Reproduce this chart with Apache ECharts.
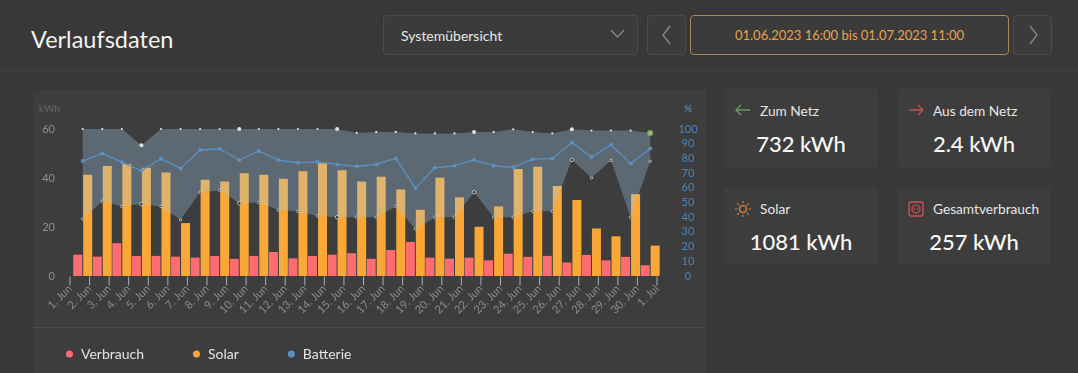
<!DOCTYPE html>
<html lang="de">
<head>
<meta charset="utf-8">
<title>Verlaufsdaten</title>
<script src="https://cdn.jsdelivr.net/npm/echarts@6/dist/echarts.min.js"></script>
<style>
	html, body { margin: 0; padding: 0; width: 1078px; height: 373px; overflow: hidden; background: #383838; font-family: "Lato", "Open Sans", sans-serif; color: #eee; }
	.abs { position: absolute; box-sizing: border-box; }
	#title { left: 31px; top: 25px; font-size: 23.5px; line-height: 28px; color: #f2f2f2; }
	#headline { left: 0; top: 70px; width: 1078px; height: 1px; background: #414141; }
	.btn { top: 15px; height: 40px; border: 1px solid #4b4b4b; border-radius: 4px; background: #3b3b3b; }
	#select { left: 383px; width: 255px; padding: 12px 17px; font-size: 14px; line-height: 15px; color: #e8e8e8; }
	#prev { left: 647px; width: 39px; }
	#range { left: 690px; width: 319px; border-color: #a98a58; color: #e8a24d; font-size: 13px; line-height: 38px; text-align: center; }
	#next { left: 1013px; width: 39px; }
	.btn svg { position: absolute; }
	#panel { left: 33px; top: 90px; width: 673px; height: 283px; background: #3d3d3d; }
	#panelline { left: 33px; top: 327px; width: 673px; height: 1px; background: #4d4d4d; }
	#chart { left: 0; top: 0; width: 720px; height: 373px; }
	.card { width: 154px; height: 78px; background: #3d3d3d; border-radius: 2px; }
	.card .lbl { position: absolute; left: 36px; top: 14px; font-size: 13.7px; line-height: 16px; color: #e6e6e6; white-space: nowrap; }
	.card .val { position: absolute; left: 0; width: 100%; top: 41px; text-align: center; font-size: 22px; line-height: 28px; font-weight: 500; color: #f7f7f7; white-space: nowrap; }
	.card svg { position: absolute; left: 11px; top: 14px; }
</style>
</head>
<body>
<div class="abs" id="title">Verlaufsdaten</div>
<div class="abs" id="headline"></div>
<div class="abs btn" id="select">Systemübersicht
	<svg style="left:226px;top:13px" width="15" height="10"><path d="M1 1 L7.5 8 L14 1" fill="none" stroke="#8a8a8a" stroke-width="1.2"/></svg>
</div>
<div class="abs btn" id="prev"><svg style="left:13px;top:9px" width="11" height="20"><path d="M9 1 L2 10 L9 19" fill="none" stroke="#8a8a8a" stroke-width="1.3"/></svg></div>
<div class="abs btn" id="range">01.06.2023 16:00 bis 01.07.2023 11:00</div>
<div class="abs btn" id="next"><svg style="left:14px;top:9px" width="11" height="20"><path d="M2 1 L9 10 L2 19" fill="none" stroke="#8a8a8a" stroke-width="1.3"/></svg></div>

<div class="abs" id="panel"></div>
<div class="abs" id="panelline"></div>
<div class="abs" id="chart"></div>

<div class="abs card" style="left:724px;top:89px">
	<svg width="16" height="16"><path d="M15 7 H1 M6 2 L1 7 L6 12" fill="none" stroke="#6f9c5c" stroke-width="1.3"/></svg>
	<div class="lbl">Zum Netz</div><div class="val">732 kWh</div>
</div>
<div class="abs card" style="left:897px;top:89px">
	<svg width="16" height="16"><path d="M1 7 H15 M10 2 L15 7 L10 12" fill="none" stroke="#c0564e" stroke-width="1.3"/></svg>
	<div class="lbl">Aus dem Netz</div><div class="val">2.4 kWh</div>
</div>
<div class="abs card" style="left:724px;top:187px">
	<svg width="16" height="16"><circle cx="8" cy="8" r="3.4" fill="none" stroke="#d4803f" stroke-width="1.4"/><path d="M8 0 V2.5 M8 13.5 V16 M0 8 H2.5 M13.5 8 H16 M2.3 2.3 L4 4 M12 12 L13.7 13.7 M2.3 13.7 L4 12 M12 4 L13.7 2.3" stroke="#d4803f" stroke-width="1.2"/></svg>
	<div class="lbl">Solar</div><div class="val">1081 kWh</div>
</div>
<div class="abs card" style="left:897px;top:187px">
	<svg width="16" height="16"><rect x="1" y="1" width="14" height="14" rx="2" fill="none" stroke="#d04f50" stroke-width="1.4"/><circle cx="8" cy="8" r="4" fill="none" stroke="#d04f50" stroke-width="1.2"/><circle cx="6.4" cy="8" r=".8" fill="#d04f50"/><circle cx="9.6" cy="8" r=".8" fill="#d04f50"/></svg>
	<div class="lbl">Gesamtverbrauch</div><div class="val">257 kWh</div>
</div>

<script>
var tickLabels = ['1. Jun','2. Jun','3. Jun','4. Jun','5. Jun','6. Jun','7. Jun','8. Jun','9. Jun','10. Jun',
	'11. Jun','12. Jun','13. Jun','14. Jun','15. Jun','16. Jun','17. Jun','18. Jun','19. Jun','20. Jun',
	'21. Jun','22. Jun','23. Jun','24. Jun','25. Jun','26. Jun','27. Jun','28. Jun','29. Jun','30. Jun','1. Jul'];

// kWh per day
var verbrauch = [8.7,7.9,13.4,8.2,8.2,7.9,7.5,8.2,7.0,8.2,9.8,7.2,8.2,8.7,9.3,7.0,10.6,13.9,7.5,7.1,7.5,6.4,9.1,7.8,8.2,5.5,8.6,6.4,7.8,4.4];
var solar = [41.3,44.9,45.7,44.2,42.2,21.6,39.3,38.6,41.9,41.3,39.7,42.8,46.0,43.2,38.6,40.5,35.3,27.0,40.1,32.1,20.1,28.4,43.7,44.6,36.7,31.0,19.4,16.2,33.4,12.4];

// battery %
var batterie = [78.2,83.4,77.5,71.6,79.8,73.2,85.7,86.4,78.9,85.0,78.9,77.0,77.7,75.9,74.5,75.9,80.0,59.8,73.6,75.0,79.0,75.0,73.9,79.5,79.8,90.9,81.0,89.3,76.6,86.8];
var batterieMin = [38.9,50.9,47.3,48.9,47.3,38.2,57.0,58.2,49.5,50.0,45.0,43.9,40.9,40.0,40.0,40.0,47.3,32.0,40.0,40.0,57.0,40.0,40.0,44.0,44.0,79.0,66.8,78.6,40.0,78.0];
var batterieMax = [100,100,100,88.9,100,100,100,100,100,100,100,100,100,100,97.3,98,98,97,97,97,98,98,99.8,98,97,99.8,98.9,98.9,98.9,97.3];

var oneDay = 86400000;
var firstDay = Date.UTC(2023, 5, 1);
var lastDay = firstDay + (tickLabels.length - 1) * oneDay;
// the readings are taken in the afternoon, so they sit 0.65 of a day after each tick
var dayOffset = 0.65;
var bigMarks = [3, 8, 13, 20, 25];

function onDays(list) {
	return list.map(function(v, i) { return [firstDay + (i + dayOffset) * oneDay, v]; });
}
function markSize(small, big) {
	return function(value, params) {
		return bigMarks.indexOf(params.dataIndex) >= 0 ? big : small;
	};
}

var myChart = echarts.init(document.getElementById('chart'));

var option = {
	animation: false,
	grid: { left: 70, right: 63, top: 129, height: 147, containLabel: false },
	legend: {
		left: 61, top: 342,
		itemWidth: 7, itemHeight: 7, itemGap: 49,
		textStyle: { color: '#e4e4e4', fontSize: 14, fontFamily: 'Lato', padding: [0, 0, 0, 3] },
		data: [
			{ name: 'Verbrauch', icon: 'circle' },
			{ name: 'Solar', icon: 'circle' },
			{ name: 'Batterie', icon: 'circle' }
		]
	},
	xAxis: [
		{
			type: 'value',
			min: firstDay,
			max: lastDay,
			interval: oneDay,
			containShape: false,
			splitLine: { show: false },
			axisLine: { show: false },
			axisTick: { show: false },
			axisLabel: {
				rotate: 45, margin: 11, fontSize: 11, fontFamily: 'Lato', color: '#8c8c8c',
				hideOverlap: false,
				formatter: function(v) { return tickLabels[Math.round((v - firstDay) / oneDay)]; }
			}
		},
		// stacking only runs along y on a time axis, so the band gets its own hidden one
		{ type: 'time', show: false, min: firstDay, max: lastDay }
	],
	yAxis: [
		{
			type: 'value', min: 0, max: 60, interval: 20,
			name: 'kWh', nameLocation: 'end', nameGap: 15,
			nameTextStyle: { color: '#5e5e5e', fontSize: 10, fontWeight: 'bold', fontFamily: 'Lato', align: 'right', padding: [0, 10, 0, 0] },
			splitLine: { show: false },
			axisLine: { show: false },
			axisTick: { show: false },
			axisLabel: { margin: 15, fontSize: 11, fontFamily: 'Lato', color: '#8f8f8f' }
		},
		{
			type: 'value', min: 0, max: 100, interval: 10,
			name: '%', nameLocation: 'end', nameGap: 15,
			nameTextStyle: { color: '#4d84bd', fontSize: 10, fontWeight: 'bold', fontFamily: 'Lato', align: 'center', padding: [0, 0, 0, 62] },
			position: 'right',
			splitLine: { show: false },
			axisLine: { show: false },
			axisTick: { show: false },
			axisLabel: { margin: 31, align: 'center', fontSize: 11, fontFamily: 'Lato', color: '#4d84bd' }
		}
	],
	series: [
		{
			// the axis would not draw its ticks here, so they are small marks hung below the zero line
			name: 'ticks', type: 'scatter', yAxisIndex: 0, clip: false, z: 1,
			symbol: 'rect', symbolSize: [1, 9], symbolOffset: [0, 5],
			itemStyle: { color: '#a9b0b3', opacity: 1 },
			data: tickLabels.map(function(t, i) { return [firstDay + i * oneDay, 0]; })
		},
		{
			name: 'Verbrauch', type: 'bar', yAxisIndex: 0, clip: false, z: 2,
			barWidth: 9, barGap: '11%',
			itemStyle: { color: '#fd6c70' },
			data: onDays(verbrauch)
		},
		{
			name: 'Solar', type: 'bar', yAxisIndex: 0, clip: false, z: 2,
			barWidth: 9, barGap: '11%',
			itemStyle: { color: '#f9a736' },
			data: onDays(solar)
		},
		{
			name: 'min', type: 'line', xAxisIndex: 1, yAxisIndex: 1, stack: 'band', z: 3,
			symbol: 'circle', symbolSize: markSize(2.5, 3.5),
			showAllSymbol: true,
			lineStyle: { width: 0 },
			itemStyle: { color: '#333', borderColor: '#d8d8d8', borderWidth: 0.8 },
			data: onDays(batterieMin)
		},
		{
			name: 'max', type: 'line', xAxisIndex: 1, yAxisIndex: 1, stack: 'band', z: 3,
			symbol: 'circle', symbolSize: markSize(2.2, 4),
			showAllSymbol: true,
			lineStyle: { width: 0 },
			itemStyle: { color: '#dfe3e6', opacity: 1 },
			areaStyle: { color: 'rgba(167,207,240,0.3)', opacity: 1 },
			data: onDays(batterieMax.map(function(v, i) { return v - batterieMin[i]; }))
		},
		{
			name: 'Batterie', type: 'line', yAxisIndex: 1, z: 4,
			symbol: 'circle', symbolSize: 4,
			showAllSymbol: true,
			lineStyle: { color: '#5b90c6', width: 1.3 },
			itemStyle: { color: '#5b90c6' },
			data: onDays(batterie)
		},
		{
			name: 'aktuell', type: 'scatter', yAxisIndex: 1, z: 5,
			symbol: 'circle', symbolSize: 6,
			itemStyle: { color: '#8fc46a' },
			data: onDays(batterieMax).slice(-1)
		}
	]
};

myChart.setOption(option);
</script>
</body>
</html>
